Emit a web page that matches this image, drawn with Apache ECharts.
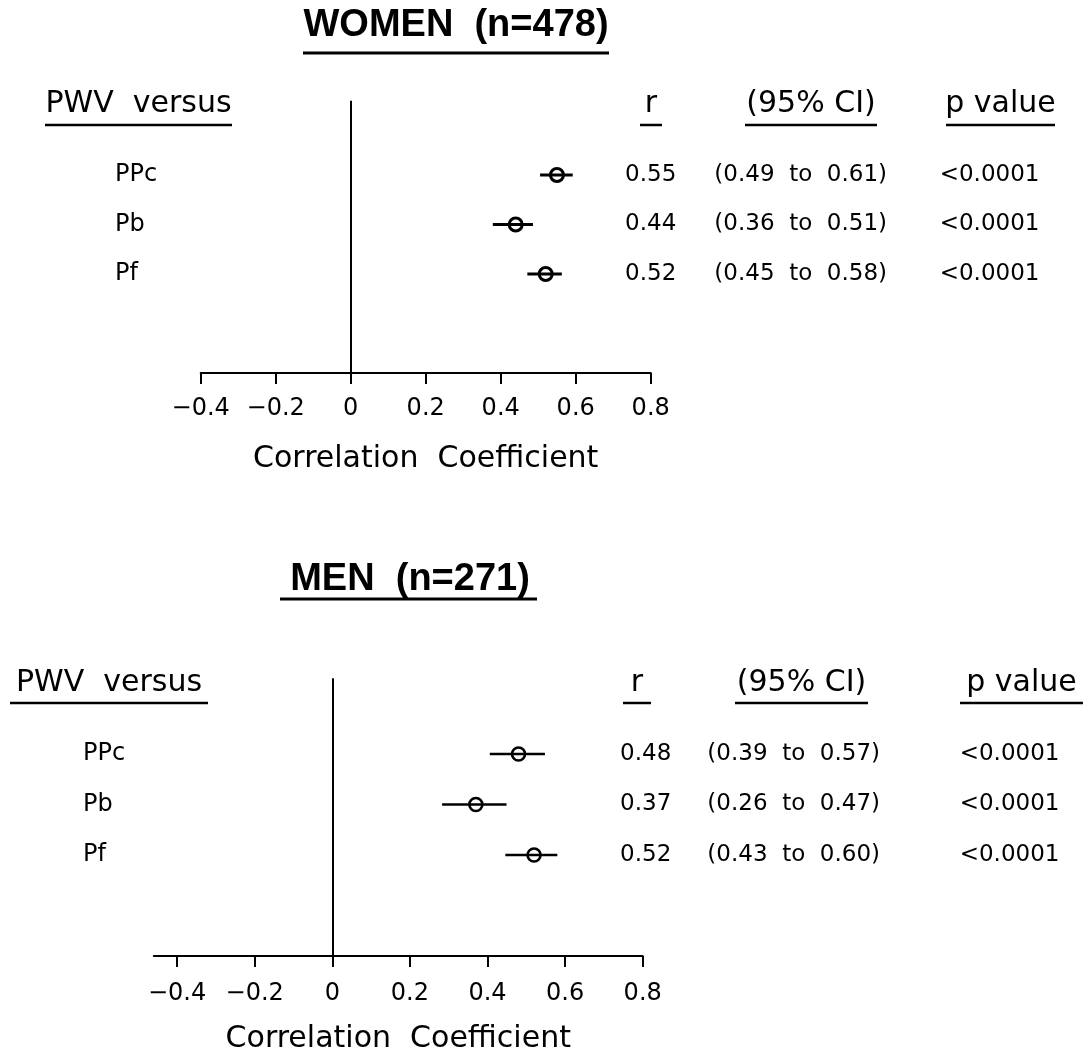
<!DOCTYPE html>
<html><head><meta charset="utf-8">
<script src="https://cdn.jsdelivr.net/npm/echarts@6/dist/echarts.min.js"></script>
<style>html,body{margin:0;padding:0;background:#fff}#c{width:1083px;height:1055px}</style>
</head><body><div id="c"></div>
<script>
// ---- data ----
const rowNames = ['PPc', 'Pb', 'Pf'];
const xTicks = [-0.4, -0.2, 0, 0.2, 0.4, 0.6, 0.8];
const xTickLabels = ['\u22120.4', '\u22120.2', '0', '0.2', '0.4', '0.6', '0.8'];

const womenTitle = 'WOMEN  (n=478)';
const womenR = [0.55, 0.44, 0.52];
const womenBarLow = [0.505, 0.379, 0.471];
const womenBarHigh = [0.592, 0.486, 0.563];
const womenRText = ['0.55', '0.44', '0.52'];
const womenCIText = ['(0.49  to  0.61)', '(0.36  to  0.51)', '(0.45  to  0.58)'];
const womenPText = ['<0.0001', '<0.0001', '<0.0001'];

const menTitle = 'MEN  (n=271)';
const menR = [0.48, 0.37, 0.52];
const menBarLow = [0.406, 0.283, 0.446];
const menBarHigh = [0.548, 0.449, 0.580];
const menRText = ['0.48', '0.37', '0.52'];
const menCIText = ['(0.39  to  0.57)', '(0.26  to  0.47)', '(0.43  to  0.60)'];
const menPText = ['<0.0001', '<0.0001', '<0.0001'];

const headers = ['PWV  versus', 'r', '(95% CI)', 'p value'];
const axisTitle = 'Correlation  Coefficient';

// ---- helpers ----
const FF = 'DejaVu Sans';
const rowPos = rowNames.map((_, i) => i + 1);
function tickLabel(v) {
  let best = 0;
  xTicks.forEach((t, i) => { if (Math.abs(t - v) < Math.abs(xTicks[best] - v)) best = i; });
  return xTickLabels[best];
}
function rowLabel(arr) {
  return v => { const i = Math.round(v) - 1; return (i >= 0 && i < arr.length) ? arr[i] : ''; };
}
function xAxisDef(gi, min, max, useInterval, labelMargin, nameGap) {
  const a = {
    gridIndex: gi, type: 'value', min: min, max: max,
    axisLine: { onZero: false, lineStyle: { color: '#000', width: 2 } },
    axisTick: { show: true, length: 11, lineStyle: { color: '#000', width: 2 } },
    axisLabel: { color: '#000', fontFamily: FF, fontSize: 24, margin: labelMargin, formatter: tickLabel },
    splitLine: { show: false },
    name: axisTitle, nameLocation: 'middle', nameGap: nameGap,
    nameTextStyle: { color: '#000', fontFamily: FF, fontSize: 30 }
  };
  if (useInterval) { a.interval = 0.2; }
  else { a.axisTick.customValues = xTicks; a.axisLabel.customValues = xTicks; }
  return a;
}
function yAxisDef(gi, position, offset, align, margin, arr, fontSize) {
  return {
    gridIndex: gi, type: 'value', min: -0.5, max: 5, inverse: true,
    position: position, offset: offset,
    axisLine: { show: false, onZero: false },
    axisTick: { show: false },
    splitLine: { show: false },
    axisLabel: {
      show: true, customValues: rowPos, align: align, margin: margin,
      color: '#000', fontFamily: FF, fontSize: fontSize, formatter: rowLabel(arr)
    }
  };
}
function renderItem(lw) {
  return function (params, api) {
    const y = api.value(0);
    const p0 = api.coord([api.value(1), y]);
    const p1 = api.coord([api.value(3), y]);
    const pc = api.coord([api.value(2), y]);
    return {
      type: 'group', children: [
        { type: 'line', shape: { x1: p0[0], y1: p0[1], x2: p1[0], y2: p1[1] }, style: { stroke: '#000', lineWidth: lw } },
        { type: 'circle', shape: { cx: pc[0], cy: pc[1], r: 6.5 }, style: { fill: 'none', stroke: '#000', lineWidth: lw } }
      ]
    };
  };
}
function seriesDef(xi, yi, r, lo, hi, lw) {
  return {
    type: 'custom', xAxisIndex: xi, yAxisIndex: yi,
    renderItem: renderItem(lw),
    encode: { x: [1, 2, 3], y: 0 },
    data: rowPos.map((p, i) => [p, lo[i], r[i], hi[i]]),
    markLine: {
      silent: true, symbol: 'none', label: { show: false },
      lineStyle: { color: '#000', width: 2, type: 'solid' },
      data: [{ xAxis: 0 }]
    },
    z: 3
  };
}
function txt(t, x, y, size, opts) {
  opts = opts || {};
  return {
    type: 'text', silent: true,
    style: {
      text: t, x: x, y: y, align: opts.align || 'center', verticalAlign: 'middle',
      fill: '#000', fontFamily: opts.family || FF, fontSize: size, fontWeight: opts.weight || 'normal'
    }
  };
}
function uline(x1, x2, y, w) {
  return { type: 'line', silent: true, shape: { x1: x1, y1: y, x2: x2, y2: y }, style: { stroke: '#000', lineWidth: w || 2.5 } };
}

const option = {
  backgroundColor: '#fff',
  animation: false,
  grid: [
    { left: 200.7, top: 100.75, width: 450, height: 272.25 },
    { left: 153.8, top: 678.25, width: 488.9, height: 277.75 }
  ],
  xAxis: [
    xAxisDef(0, -0.4, 0.8, true, 24, 71),
    xAxisDef(1, -0.46, 0.8, false, 26, 68)
  ],
  yAxis: [
    yAxisDef(0, 'left', 0, 'left', 85.7, rowNames, 24),
    yAxisDef(0, 'right', 0, 'center', 0, womenRText, 23),
    yAxisDef(0, 'right', 150, 'center', 0, womenCIText, 23),
    yAxisDef(0, 'right', 289, 'left', 0, womenPText, 23),
    yAxisDef(1, 'left', 0, 'left', 70.8, rowNames, 24),
    yAxisDef(1, 'right', 0, 'center', 3, menRText, 23),
    yAxisDef(1, 'right', 151, 'center', 0, menCIText, 23),
    yAxisDef(1, 'right', 317, 'left', 0, menPText, 23)
  ],
  series: [
    seriesDef(0, 0, womenR, womenBarLow, womenBarHigh, 3),
    seriesDef(1, 4, menR, menBarLow, menBarHigh, 2.6)
  ],
  graphic: [
    txt(womenTitle, 456, 26, 38, { family: 'Liberation Sans', weight: 'bold' }),
    uline(303, 609, 53, 3),
    txt(menTitle, 410, 580, 38, { family: 'Liberation Sans', weight: 'bold' }),
    uline(280, 537, 599, 3),
    // women headers
    txt(headers[0], 138.5, 104, 30), uline(45, 232, 125),
    txt(headers[1], 651, 104, 30), uline(640, 662, 125),
    txt(headers[2], 811, 104, 30), uline(745, 877, 125),
    txt(headers[3], 1000.5, 104, 30), uline(946, 1055, 125),
    // men headers
    txt(headers[0], 109, 683, 30), uline(10, 208, 703),
    txt(headers[1], 637, 683, 30), uline(623, 651, 703),
    txt(headers[2], 801.5, 683, 30), uline(735, 868, 703),
    txt(headers[3], 1021.5, 683, 30), uline(960, 1083, 703)
  ]
};
const chart = echarts.init(document.getElementById('c'), null, { renderer: 'canvas' });
chart.setOption(option);
</script>
</body></html>
